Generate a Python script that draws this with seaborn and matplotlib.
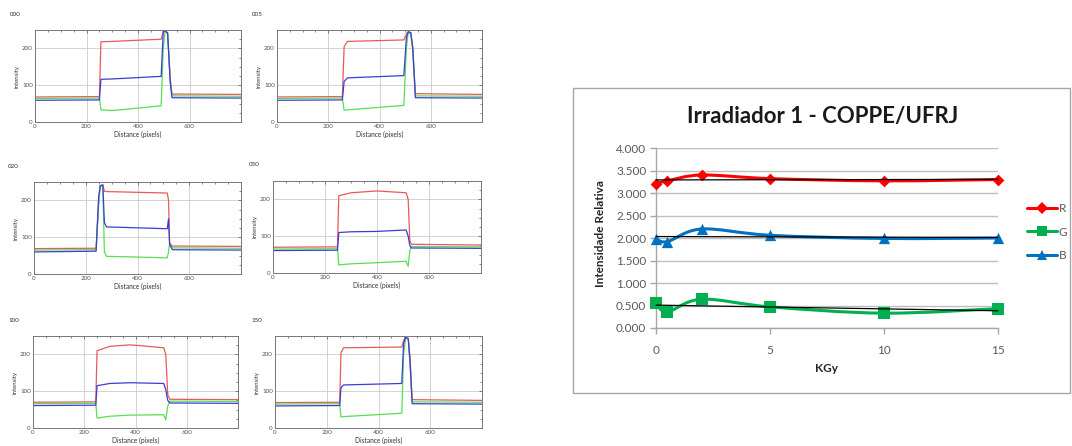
import numpy as np
import matplotlib
matplotlib.use("Agg")
import matplotlib.pyplot as plt
import seaborn as sns
from matplotlib.path import Path
from matplotlib.patches import PathPatch, Rectangle
from matplotlib.lines import Line2D
from matplotlib.ticker import FormatStrFormatter, MultipleLocator

sns.set_theme(style="white")
plt.rcParams["font.family"] = ["Lato", "DejaVu Sans"]

# ---------------- profile panels (breakpoints) ----------------
panel_names = ["000", "005", "020", "050", "100", "150"]

x_000 = [0, 250, 256, 300, 490, 498, 505, 515, 525, 532, 800]
r_000 = [68, 69, 218, 219, 225, 246, 248, 242, 120, 76, 75]
g_000 = [64, 65, 33, 31, 44, 200, 246, 240, 110, 71, 70]
b_000 = [59, 60, 116, 117, 124, 246, 248, 242, 110, 66, 65]

x_005 = [0, 255, 262, 275, 495, 505, 512, 522, 530, 540, 800]
r_005 = [68, 69, 205, 219, 223, 240, 245, 243, 200, 77, 75]
g_005 = [64, 65, 32, 33, 45, 200, 243, 241, 190, 71, 70]
b_005 = [59, 60, 110, 120, 126, 230, 245, 243, 200, 66, 65]

x_020 = [0, 240, 250, 256, 266, 272, 280, 515, 520, 524, 535, 800]
r_020 = [69, 70, 200, 240, 242, 225, 224, 220, 200, 85, 76, 75]
g_020 = [65, 66, 190, 238, 240, 60, 48, 44, 60, 82, 71, 70]
b_020 = [60, 62, 210, 240, 242, 140, 128, 123, 150, 80, 66, 65]

x_050 = [0, 248, 253, 300, 400, 512, 520, 526, 532, 800]
r_050 = [70, 71, 210, 218, 223, 218, 200, 90, 78, 76]
g_050 = [65, 66, 22, 25, 28, 32, 18, 60, 72, 71]
b_050 = [61, 62, 110, 112, 113, 117, 100, 75, 68, 67]

x_100 = [0, 245, 250, 300, 380, 510, 518, 526, 534, 800]
r_100 = [70, 71, 210, 222, 226, 218, 200, 90, 78, 77]
g_100 = [66, 67, 27, 32, 35, 36, 22, 60, 73, 72]
b_100 = [61, 62, 115, 121, 123, 121, 105, 75, 68, 67]

x_150 = [0, 250, 255, 265, 490, 497, 505, 515, 522, 530, 800]
r_150 = [69, 70, 205, 218, 220, 238, 246, 243, 190, 77, 75]
g_150 = [65, 66, 30, 31, 40, 200, 244, 241, 170, 71, 70]
b_150 = [60, 61, 110, 117, 121, 230, 246, 243, 180, 66, 65]

profiles = [
    (x_000, r_000, g_000, b_000),
    (x_005, r_005, g_005, b_005),
    (x_020, r_020, g_020, b_020),
    (x_050, r_050, g_050, b_050),
    (x_100, r_100, g_100, b_100),
    (x_150, r_150, g_150, b_150),
]

# ---------------- right chart data ----------------
dose = [0, 0.5, 2, 5, 10, 15]
R_vals = [3.21, 3.27, 3.40, 3.32, 3.27, 3.30]
G_vals = [0.55, 0.36, 0.64, 0.47, 0.33, 0.43]
B_vals = [1.98, 1.92, 2.20, 2.06, 1.99, 2.00]
series_names = ["R", "G", "B"]

W, H = 1072, 446
fig = plt.figure(figsize=(W / 100, H / 100), dpi=100)
fig.patch.set_facecolor("white")


def fax(l, t, r, b):
    return fig.add_axes([l / W, 1 - b / H, (r - l) / W, (b - t) / H])


boxes = [(35, 30, 241, 122), (277, 30, 482, 122),
         (34, 182, 241, 274), (273, 181, 481, 273),
         (33, 336, 238, 428), (275, 336, 482, 428)]
label_pos = [(10, 14), (252, 15), (8, 166), (249, 164), (8, 320), (251, 320)]

pcol = {"r": "#E85A5A", "g": "#55E055", "b": "#3C3CD8"}

for (name, (xs, rs, gs, bs), box, lp) in zip(panel_names, profiles, boxes, label_pos):
    ax = fax(*box)
    ax.set_facecolor("white")
    for ys, c in ((rs, pcol["r"]), (gs, pcol["g"]), (bs, pcol["b"])):
        sns.lineplot(x=xs, y=ys, color=c, linewidth=0.9, ax=ax, sort=False)
    ax.set_xlim(0, 800)
    ax.set_ylim(0, 250)
    ax.set_xticks([0, 200, 400, 600])
    ax.set_yticks([0, 100, 200])
    ax.xaxis.set_minor_locator(MultipleLocator(50))
    ax.yaxis.set_minor_locator(MultipleLocator(25))
    ax.grid(True, which="major", color="#CCCCCC", linewidth=0.6)
    ax.tick_params(which="both", direction="in", top=True, right=True,
                   labelsize=4.5, pad=1.5, colors="#555555")
    ax.tick_params(which="major", length=2.5, width=0.5)
    ax.tick_params(which="minor", length=1.5, width=0.5)
    for s in ax.spines.values():
        s.set_color("#777777")
        s.set_linewidth(0.7)
    ax.set_xlabel("Distance (pixels)", fontsize=4.8, labelpad=1.5, color="#333333")
    ax.set_ylabel("Intensity", fontsize=4.3, labelpad=1.5, color="#333333")
    fig.text(lp[0] / W, 1 - lp[1] / H, name, fontsize=4.5, ha="left", va="center",
             color="#333333")

# ---------------- right chart ----------------
fig.patches.append(Rectangle((573 / W, 1 - 393 / H), (1070 - 573) / W, (393 - 88) / H,
                             transform=fig.transFigure, fill=False,
                             edgecolor="#A6A6A6", linewidth=1.0))

axr = fax(656, 148, 998, 328)
axr.set_facecolor("none")
axr.set_xlim(0, 15)
axr.set_ylim(0, 4)
axr.set_yticks(np.arange(0, 4.01, 0.5))
axr.set_xticks([0, 5, 10, 15])
axr.yaxis.set_major_formatter(FormatStrFormatter("%.3f"))
axr.grid(True, axis="y", color="#BFBFBF", linewidth=1.0)
axr.grid(False, axis="x")
axr.set_axisbelow(True)
for s in ("top", "right"):
    axr.spines[s].set_visible(False)
for s in ("left", "bottom"):
    axr.spines[s].set_color("#A6A6A6")
    axr.spines[s].set_linewidth(1.0)
axr.tick_params(axis="both", which="major", direction="out", length=4, width=1,
                color="#A6A6A6", labelsize=8.5, labelcolor="#595959")
axr.tick_params(axis="x", pad=8)
axr.tick_params(axis="y", pad=3)
axr.tick_params(left=True, bottom=True)


def smooth_patch(ax, xs, ys, color, lw):
    pts = np.column_stack([xs, ys]).astype(float)
    n = len(pts)
    verts = [pts[0]]
    codes = [Path.MOVETO]
    for i in range(n - 1):
        p0 = pts[i - 1] if i > 0 else pts[i]
        p1 = pts[i]
        p2 = pts[i + 1]
        p3 = pts[i + 2] if i + 2 < n else pts[i + 1]
        c1 = p1 + (p2 - p0) / 6.0
        c2 = p2 - (p3 - p1) / 6.0
        verts += [c1, c2, p2]
        codes += [Path.CURVE4] * 3
    patch = PathPatch(Path(verts, codes), facecolor="none", edgecolor=color,
                      linewidth=lw, zorder=3, capstyle="round", joinstyle="round")
    patch.set_clip_on(False)
    ax.add_patch(patch)


scol = {"R": "#FF0000", "G": "#00B050", "B": "#0070C0"}
smark = {"R": ("D", 36), "G": ("s", 66), "B": ("^", 66)}

for name, vals in zip(series_names, (R_vals, G_vals, B_vals)):
    smooth_patch(axr, dose, vals, scol[name], 2.2)
    m, s = smark[name]
    sns.scatterplot(x=dose, y=vals, marker=m, s=s, color=scol[name],
                    edgecolor=scol[name], linewidth=0, ax=axr, zorder=4,
                    clip_on=False)
    k, b0 = np.polyfit(dose, vals, 1)
    xx = np.array([min(dose), max(dose)])
    axr.plot(xx, k * xx + b0, color="black", linewidth=0.9, zorder=5, clip_on=False)

axr.set_xlabel("")
axr.set_ylabel("")

fig.text(823 / W, 1 - 117 / H, "Irradiador 1 - COPPE/UFRJ", fontsize=16,
         fontweight="bold", ha="center", va="center", color="#1A1A1A")
fig.text(600 / W, 1 - 234 / H, "Intensidade Relativa", fontsize=8.5,
         fontweight="bold", rotation=90, ha="center", va="center", color="#262626")
fig.text(827 / W, 1 - 368 / H, "KGy", fontsize=8.5, fontweight="bold",
         ha="center", va="center", color="#262626")

handles = [Line2D([0], [0], color=scol[n], linewidth=2.2, marker=smark[n][0],
                  markersize={"R": 6, "G": 7, "B": 7}[n], markeredgewidth=0)
           for n in series_names]
fig.legend(handles, series_names, loc="center left",
           bbox_to_anchor=(1016 / W, 1 - 232 / H), frameon=False, fontsize=8.5,
           handlelength=2.6, handletextpad=0.1, labelspacing=1.05,
           labelcolor="#595959")

fig.savefig("out.png", dpi=100, facecolor="white")
